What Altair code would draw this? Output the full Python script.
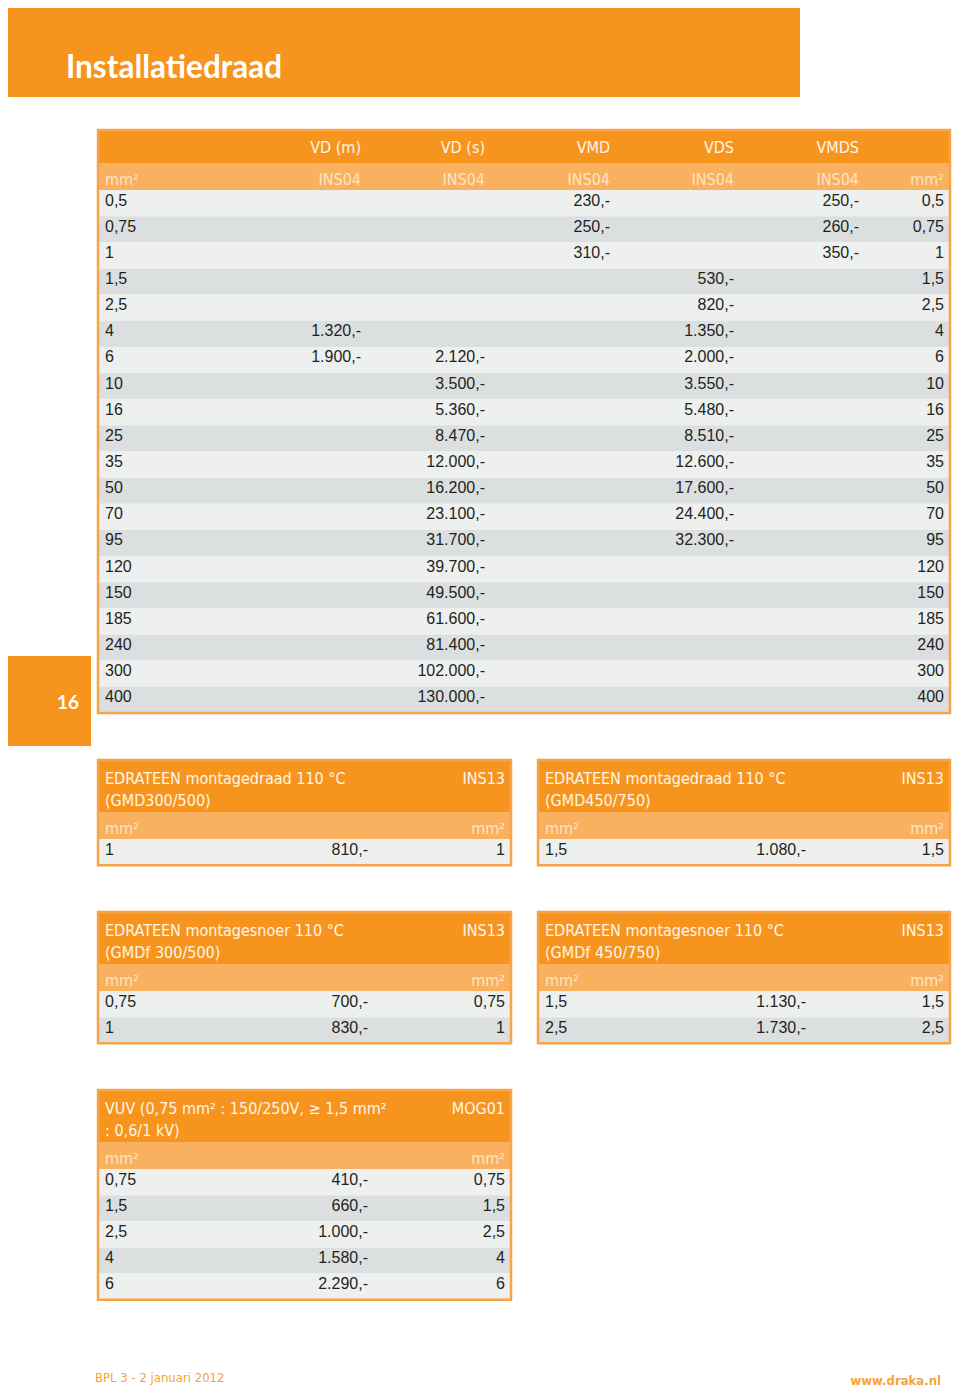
import altair as alt
import pandas as pd

# ---------------- data ----------------
page_title = "Installatiedraad"
page_number = "16"
footer_left = "BPL 3 - 2 januari 2012"
footer_right = "www.draka.nl"

main_sizes = ["0,5", "0,75", "1", "1,5", "2,5", "4", "6", "10", "16", "25", "35",
              "50", "70", "95", "120", "150", "185", "240", "300", "400"]
col_names = ["VD (m)", "VD (s)", "VMD", "VDS", "VMDS"]
col_codes = ["INS04", "INS04", "INS04", "INS04", "INS04"]
vd_m = ["", "", "", "", "", "1.320,-", "1.900,-", "", "", "", "", "", "", "", "", "", "", "", "", ""]
vd_s = ["", "", "", "", "", "", "2.120,-", "3.500,-", "5.360,-", "8.470,-", "12.000,-",
        "16.200,-", "23.100,-", "31.700,-", "39.700,-", "49.500,-", "61.600,-", "81.400,-",
        "102.000,-", "130.000,-"]
vmd = ["230,-", "250,-", "310,-", "", "", "", "", "", "", "", "", "", "", "", "", "", "", "", "", ""]
vds = ["", "", "", "530,-", "820,-", "1.350,-", "2.000,-", "3.550,-", "5.480,-", "8.510,-",
       "12.600,-", "17.600,-", "24.400,-", "32.300,-", "", "", "", "", "", ""]
vmds = ["250,-", "260,-", "350,-", "", "", "", "", "", "", "", "", "", "", "", "", "", "", "", "", ""]
main_cols = [vd_m, vd_s, vmd, vds, vmds]
unit = "mm²"

a_title = ["EDRATEEN montagedraad 110 °C", "(GMD300/500)"]
a_code = "INS13"
a_sizes = ["1"]
a_prices = ["810,-"]

b_title = ["EDRATEEN montagedraad 110 °C", "(GMD450/750)"]
b_code = "INS13"
b_sizes = ["1,5"]
b_prices = ["1.080,-"]

c_title = ["EDRATEEN montagesnoer 110 °C", "(GMDf 300/500)"]
c_code = "INS13"
c_sizes = ["0,75", "1"]
c_prices = ["700,-", "830,-"]

d_title = ["EDRATEEN montagesnoer 110 °C", "(GMDf 450/750)"]
d_code = "INS13"
d_sizes = ["1,5", "2,5"]
d_prices = ["1.130,-", "1.730,-"]

e_title = ["VUV (0,75 mm² : 150/250V, ≥ 1,5 mm²", ": 0,6/1 kV)"]
e_code = "MOG01"
e_sizes = ["0,75", "1,5", "2,5", "4", "6"]
e_prices = ["410,-", "660,-", "1.000,-", "1.580,-", "2.290,-"]

# ---------------- styling ----------------
ORANGE = "#F7941D"
LIGHT_OR = "#F9B160"
ROW_A = "#EEEFEF"
ROW_B = "#DCDFE0"
BORDER = "#F7A449"
HDR_TXT = "#FFF6EA"
HDR2_TXT = "#FDE4C4"
DATA_TXT = "#231F20"
FOOT = "#F6A33B"
TFONT = "Lato"
HFONT = "DejaVu Sans Condensed, Lato"
DFONT = "Liberation Sans"

rects, borders, texts = [], [], []


def rect(x0, x1, y0, y1, fill):
    rects.append(dict(x=x0, x2=x1, y=y0, y2=y1, fill=fill))


def txt(x, y, s, style):
    if s:
        texts.append(dict(x=x, y=y, text=s, style=style))


# top banner and page number box
rect(0, 800, 0, 97, ORANGE)
txt(66, 78, page_title, "title")
rect(0, 91, 656, 746, ORANGE)
txt(68, 709, page_number, "pagenum")

# main table
L, R, T = 97, 951, 130
H1, H2, RH = 33, 27, 26.15
col_right = [361, 485, 610, 734, 859]
rect(L, R, T, T + H1, ORANGE)
rect(L, R, T + H1, T + H1 + H2, LIGHT_OR)
for name, code, cx in zip(col_names, col_codes, col_right):
    txt(cx, T + H1 - 10, name, "h1_right")
    txt(cx, T + H1 + H2 - 5, code, "h2_right")
txt(L + 8, T + H1 + H2 - 5, unit, "h2_left")
txt(R - 7, T + H1 + H2 - 5, unit, "h2_right")
top0 = T + H1 + H2
for i, s in enumerate(main_sizes):
    y0 = top0 + i * RH
    rect(L, R, y0, y0 + RH, ROW_A if i % 2 == 0 else ROW_B)
    txt(L + 8, y0 + 15.5, s, "d_left")
    txt(R - 7, y0 + 15.5, s, "d_right")
    for col, cx in zip(main_cols, col_right):
        txt(cx, y0 + 15.5, col[i], "d_right")
borders.append(dict(x=L + 1, x2=R - 1, y=T, y2=top0 + len(main_sizes) * RH))


def small_table(left, right, top, title, code, sizes, prices, price_x):
    rect(left, right, top, top + 52, ORANGE)
    rect(left, right, top + 52, top + 79, LIGHT_OR)
    txt(left + 8, top + 23.5, title[0], "h1_left")
    txt(left + 8, top + 45.5, title[1], "h1_left")
    txt(right - 7, top + 23.5, code, "h1_right")
    txt(left + 8, top + 74, unit, "h2_left")
    txt(right - 7, top + 74, unit, "h2_right")
    for i, (s, p) in enumerate(zip(sizes, prices)):
        y0 = top + 79 + i * RH
        rect(left, right, y0, y0 + RH, ROW_A if i % 2 == 0 else ROW_B)
        txt(left + 8, y0 + 15.5, s, "d_left")
        txt(price_x, y0 + 15.5, p, "d_right")
        txt(right - 7, y0 + 15.5, s, "d_right")
    borders.append(dict(x=left + 1, x2=right - 1, y=top, y2=top + 79 + len(sizes) * RH))


small_table(97, 512, 760, a_title, a_code, a_sizes, a_prices, 368)
small_table(537, 951, 760, b_title, b_code, b_sizes, b_prices, 806)
small_table(97, 512, 912, c_title, c_code, c_sizes, c_prices, 368)
small_table(537, 951, 912, d_title, d_code, d_sizes, d_prices, 806)
small_table(97, 512, 1090, e_title, e_code, e_sizes, e_prices, 368)

txt(95, 1382, footer_left, "foot_left")
txt(941, 1385, footer_right, "foot_right")

rect_df = pd.DataFrame(rects)
border_df = pd.DataFrame(borders)
text_df = pd.DataFrame(texts)

XS = alt.Scale(domain=[8, 952], nice=False, zero=False)
YS = alt.Scale(domain=[8, 1387], reverse=True, nice=False, zero=False)

rect_layer = alt.Chart(rect_df).mark_rect().encode(
    x=alt.X("x:Q", scale=XS, axis=None),
    x2="x2:Q",
    y=alt.Y("y:Q", scale=YS, axis=None),
    y2="y2:Q",
    color=alt.Color("fill:N", scale=None),
)

border_layer = alt.Chart(border_df).mark_rect(
    fillOpacity=0, stroke=BORDER, strokeWidth=2.5
).encode(
    x=alt.X("x:Q", scale=XS, axis=None),
    x2="x2:Q",
    y=alt.Y("y:Q", scale=YS, axis=None),
    y2="y2:Q",
)

styles = {
    "title": dict(align="left", font=TFONT, fontSize=31.5, fontWeight="bold", color="#FFFFFF"),
    "pagenum": dict(align="center", font=TFONT, fontSize=19, fontWeight="bold", color="#FFFFFF"),
    "h1_left": dict(align="left", font=HFONT, fontSize=16, fontWeight="normal", color=HDR_TXT),
    "h1_right": dict(align="right", font=HFONT, fontSize=16, fontWeight="normal", color=HDR_TXT),
    "h2_left": dict(align="left", font=HFONT, fontSize=16, fontWeight="normal", color=HDR2_TXT),
    "h2_right": dict(align="right", font=HFONT, fontSize=16, fontWeight="normal", color=HDR2_TXT),
    "d_left": dict(align="left", font=DFONT, fontSize=16, fontWeight="normal", color=DATA_TXT),
    "d_right": dict(align="right", font=DFONT, fontSize=16, fontWeight="normal", color=DATA_TXT),
    "foot_left": dict(align="left", font=HFONT, fontSize=13, fontWeight="normal", color=FOOT),
    "foot_right": dict(align="right", font=HFONT, fontSize=13, fontWeight="bold", color=FOOT),
}

text_layers = []
for name, kw in styles.items():
    text_layers.append(
        alt.Chart(text_df)
        .transform_filter(alt.datum.style == name)
        .mark_text(baseline="alphabetic", **kw)
        .encode(
            x=alt.X("x:Q", scale=XS, axis=None),
            y=alt.Y("y:Q", scale=YS, axis=None),
            text="text:N",
        )
    )

chart = (
    alt.layer(rect_layer, border_layer, *text_layers)
    .properties(width=944, height=1379, autosize=alt.AutoSizeParams(type="none"), padding=0)
    .configure_view(strokeWidth=0)
)

chart.save("out.html", embed_options={"renderer": "svg", "actions": False})
